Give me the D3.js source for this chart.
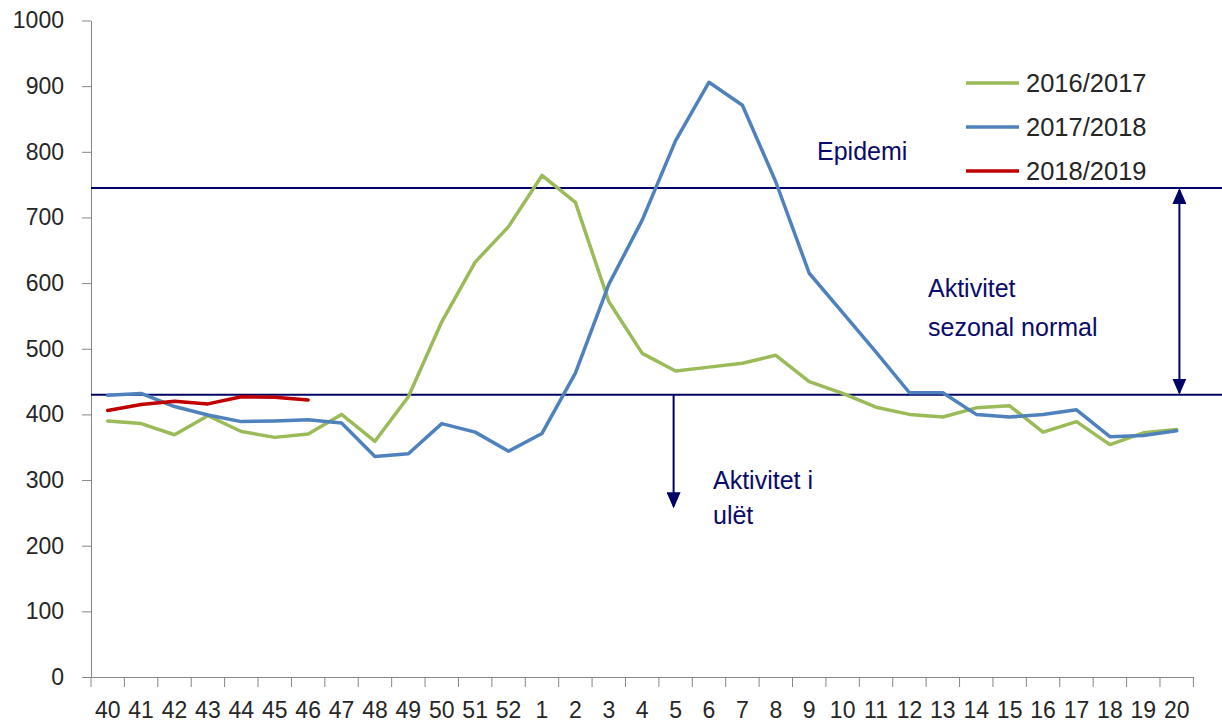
<!DOCTYPE html>
<html>
<head>
<meta charset="utf-8">
<script src="https://cdn.jsdelivr.net/npm/d3@7"></script>
<style>
  html, body { margin: 0; padding: 0; background: #fff; }
  svg { display: block; }
</style>
</head>
<body>
<svg id="chart" width="1222" height="723"></svg>
<script>
const weeks = ["40","41","42","43","44","45","46","47","48","49","50","51","52","1","2","3","4","5","6","7","8","9","10","11","12","13","14","15","16","17","18","19","20"];
const seriesNames = ["2016/2017", "2017/2018", "2018/2019"];
const s2016 = [390,386,369,398,374,365,370,400,359,427,541,632,686,764,723,572,493,466,472,478,490,450,432,411,400,396,410,413,373,389,354,372,377];
const s2017 = [429,432,412,399,389,390,392,387,336,340,386,373,344,371,463,598,696,817,906,871,754,615,555,495,433,433,400,396,400,407,366,368,375];
const s2018 = [406,415,420,416,427,426,422];
const yTicks = [0,100,200,300,400,500,600,700,800,900,1000];
const epidemicThreshold = 745;
const seasonalThreshold = 430;
const annotations = ["Epidemi", "Aktivitet", "sezonal normal", "Aktivitet i", "ulët"];

const colors = ["#9bbb59", "#4f81bd", "#c00000"];
const navy = "#000066";
const textNavy = "#0a0a6a";
const numFont = "'Liberation Sans', Arial, sans-serif";

const svg = d3.select("#chart");
const W = 1222;
const x = d3.scaleBand().domain(weeks).range([91, 1193.4]).padding(0);
const y = d3.scaleLinear().domain([0, 1000]).range([677, 20.5]);
const cx = d => x(d) + x.bandwidth() / 2;

// Y axis
const yAxis = svg.append("g").attr("transform", "translate(91,0)")
  .call(d3.axisLeft(y).tickValues(yTicks).tickFormat(d3.format("d")).tickSize(9).tickSizeOuter(0).tickPadding(18));
yAxis.select(".domain").attr("stroke", "#868686");
yAxis.selectAll(".tick line").attr("stroke", "#868686");
yAxis.selectAll(".tick text").attr("font-family", numFont).attr("font-size", 23).attr("fill", "#262626");

// X axis
const xAxis = svg.append("g").attr("transform", "translate(0,677)")
  .call(d3.axisBottom(x).tickSize(0).tickSizeOuter(0).tickPadding(25));
xAxis.select(".domain").attr("stroke", "#868686");
xAxis.selectAll(".tick text").attr("font-family", numFont).attr("font-size", 23).attr("fill", "#262626");
const bounds = weeks.map(w => x(w)).concat([x.range()[1]]);
svg.append("g").selectAll("line").data(bounds).join("line")
  .attr("x1", d => d).attr("x2", d => d).attr("y1", 677).attr("y2", 687)
  .attr("stroke", "#868686").attr("stroke-width", 1);

// Threshold lines
[epidemicThreshold, seasonalThreshold].forEach(v => {
  svg.append("line").attr("x1", 91).attr("x2", W).attr("y1", y(v)).attr("y2", y(v))
    .attr("stroke", navy).attr("stroke-width", 2);
});

// Series
const line = d3.line().x((d, i) => cx(weeks[i])).y(d => y(d));
[s2016, s2017, s2018].forEach((s, i) => {
  svg.append("path").datum(s).attr("d", line).attr("fill", "none")
    .attr("stroke", colors[i]).attr("stroke-width", 3.5)
    .attr("stroke-linejoin", "round").attr("stroke-linecap", "round");
});

// Arrows
const defs = svg.append("defs");
defs.append("marker").attr("id", "ah").attr("viewBox", "0 0 16 14")
  .attr("refX", 14).attr("refY", 7).attr("markerWidth", 16).attr("markerHeight", 14)
  .attr("markerUnits", "userSpaceOnUse").attr("orient", "auto-start-reverse")
  .append("path").attr("d", "M0,0 L16,7 L0,14 Z").attr("fill", navy);

const ax1 = x.range()[1] - 14;
svg.append("line").attr("x1", ax1).attr("x2", ax1)
  .attr("y1", y(epidemicThreshold) + 2).attr("y2", y(seasonalThreshold) - 2)
  .attr("stroke", navy).attr("stroke-width", 2)
  .attr("marker-start", "url(#ah)").attr("marker-end", "url(#ah)");

const ax2 = cx("5") - 2;
svg.append("line").attr("x1", ax2).attr("x2", ax2)
  .attr("y1", y(seasonalThreshold)).attr("y2", y(260))
  .attr("stroke", navy).attr("stroke-width", 2)
  .attr("marker-end", "url(#ah)");

// Annotation texts
const ann = svg.append("g").attr("font-family", "'Liberation Sans', Arial, sans-serif")
  .attr("font-size", 25).attr("fill", textNavy);
ann.append("text").attr("x", 817).attr("y", 160).text(annotations[0]);
ann.append("text").attr("x", 928).attr("y", 297).text(annotations[1]);
ann.append("text").attr("x", 928).attr("y", 336).text(annotations[2]);
ann.append("text").attr("x", 713).attr("y", 489).text(annotations[3]);
ann.append("text").attr("x", 713).attr("y", 524).text(annotations[4]);

// Legend
const lg = svg.append("g");
seriesNames.forEach((n, i) => {
  const ly = 83 + i * 44;
  lg.append("line").attr("x1", 966).attr("x2", 1019).attr("y1", ly).attr("y2", ly)
    .attr("stroke", colors[i]).attr("stroke-width", 3.5);
  lg.append("text").attr("x", 1026).attr("y", ly).attr("dy", "0.35em")
    .attr("font-family", numFont).attr("font-size", 25.5).attr("fill", "#262626").text(n);
});
</script>
</body>
</html>
